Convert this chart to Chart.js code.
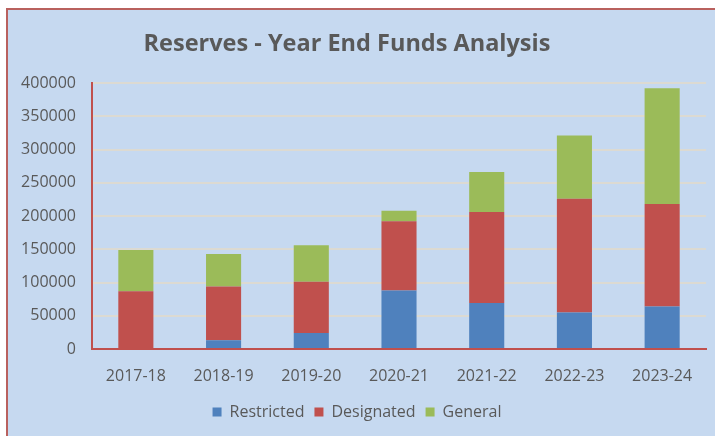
<!DOCTYPE html>
<html>
<head>
<meta charset="utf-8">
<script src="https://cdn.jsdelivr.net/npm/chart.js@4"></script>
<style>
  html, body { margin: 0; padding: 0; background: #ffffff; }
  #frame {
    position: absolute; left: 6px; top: 8px;
    width: 709px; height: 428px;
    box-sizing: border-box;
    background: #c6d9f0;
    border-top: 2px solid #b9615e;
    border-left: 2px solid #b9615e;
  }
  #chart { display: block; }
</style>
</head>
<body>
<div id="frame"><canvas id="chart" width="707" height="426"></canvas></div>
<script>
'use strict';

// Datos del grafico
var years = ['2017-18', '2018-19', '2019-20', '2020-21', '2021-22', '2022-23', '2023-24'];
var restricted = [0, 13000, 24000, 88000, 69000, 55000, 64000];
var designated = [87000, 81000, 77000, 104000, 137000, 171000, 154000];
var general = [62000, 49000, 55000, 16000, 60000, 95000, 174000];
var yTicks = [0, 50000, 100000, 150000, 200000, 250000, 300000, 350000, 400000];

var textColor = '#595959';
var axisRed = '#c0504d';

// Titulo dibujado a mano para fijar su posicion
var titlePlugin = {
  id: 'tituloFijo',
  afterDraw: function (chart) {
    var ctx = chart.ctx;
    ctx.save();
    ctx.fillStyle = textColor;
    ctx.font = 'bold 23.5px "Open Sans"';
    ctx.textAlign = 'center';
    ctx.textBaseline = 'middle';
    ctx.fillText('Reserves - Year End Funds Analysis', 339, 34);
    ctx.restore();
  }
};

var ctx = document.getElementById('chart').getContext('2d');
var chart = new Chart(ctx, {
  type: 'bar',
  data: {
    labels: years,
    datasets: [{
      label: 'Restricted',
      data: restricted,
      backgroundColor: '#4f81bd',
      borderWidth: 0
    }, {
      label: 'Designated',
      data: designated,
      backgroundColor: '#c0504d',
      borderWidth: 0
    }, {
      label: 'General',
      data: general,
      backgroundColor: '#9bbb59',
      borderWidth: 0
    }]
  },
  options: {
    responsive: false,
    animation: false,
    layout: {
      padding: { top: 73, right: 9, left: 0, bottom: 6 }
    },
    datasets: {
      bar: { categoryPercentage: 0.8, barPercentage: 0.5 }
    },
    plugins: {
      title: { display: false },
      tooltip: { enabled: false },
      legend: {
        display: true,
        position: 'bottom',
        labels: {
          color: textColor,
          font: { family: 'Open Sans', size: 16 },
          boxWidth: 9,
          boxHeight: 9,
          padding: 10
        }
      }
    },
    scales: {
      x: {
        stacked: true,
        grid: { display: false },
        border: { color: axisRed, width: 2 },
        ticks: {
          color: textColor,
          font: { family: 'Open Sans', size: 16 },
          padding: 10,
          maxRotation: 0
        },
        afterFit: function (s) { s.height = 45; }
      },
      y: {
        stacked: true,
        min: 0,
        max: 400000,
        afterBuildTicks: function (s) {
          s.ticks = yTicks.map(function (v) { return { value: v }; });
        },
        grid: {
          color: function (c) { return c.tick && c.tick.value === 0 ? 'rgba(0,0,0,0)' : '#dcdad2'; },
          lineWidth: 2,
          drawTicks: false
        },
        border: { color: axisRed, width: 2 },
        ticks: {
          color: textColor,
          font: { family: 'Open Sans', size: 16 },
          padding: 16,
          callback: function (v) { return String(v); }
        },
        afterFit: function (s) { s.width = 84; }
      }
    }
  },
  plugins: [titlePlugin]
});
</script>
</body>
</html>
